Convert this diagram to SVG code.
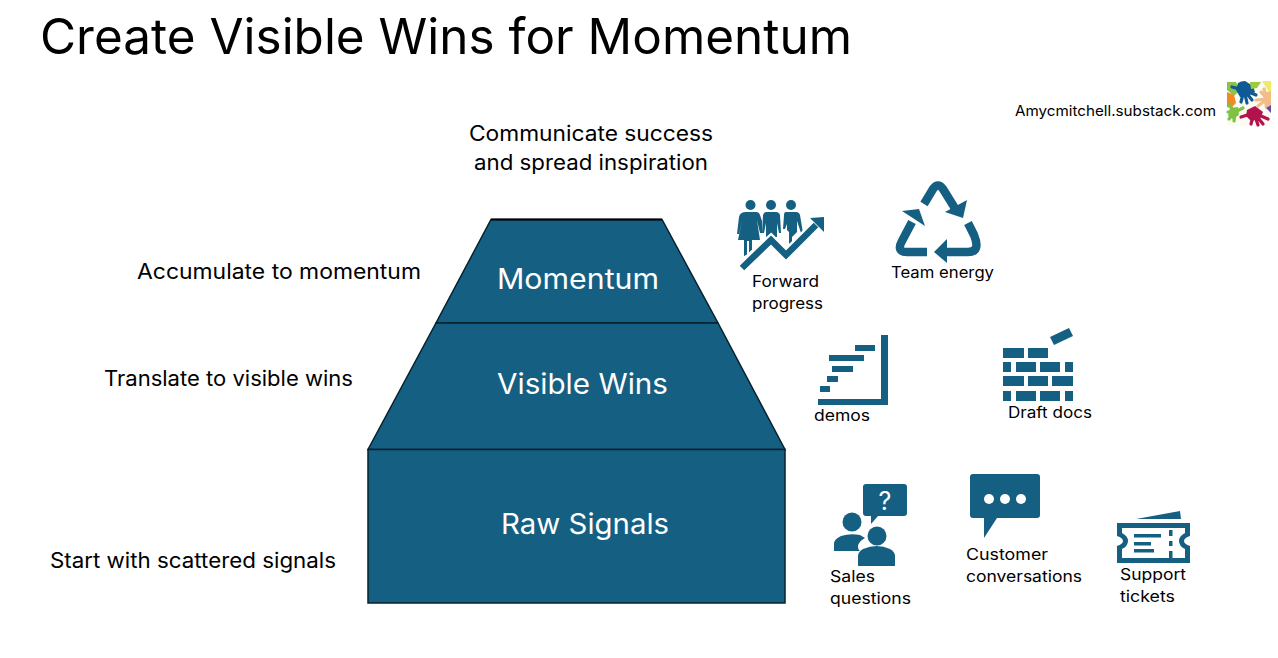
<svg xmlns="http://www.w3.org/2000/svg" width="1278" height="658" viewBox="0 0 1278 658">
<style>
text{font-family:Inter,"Liberation Sans",sans-serif;fill:#000;font-weight:400}
.t{font-size:21px}
.l{font-size:15.500px}
.p{font-size:28px;fill:#fff}
.b{fill:#156082;stroke:#06222e;stroke-width:1.500}
.i{fill:#156082}
.s{fill:none;stroke:#156082;stroke-width:8.500;stroke-linejoin:round}
.h{fill:none;stroke-width:3.200;stroke-linecap:round}
</style>
<rect width="1278" height="658" fill="#fff"/>
<text x="40" y="54" font-size="49" textLength="812" lengthAdjust="spacingAndGlyphs">Create Visible Wins for Momentum</text>
<g id="logo">
<text x="1015" y="116" font-size="14.500" textLength="201" lengthAdjust="spacingAndGlyphs">Amycmitchell.substack.com</text>
<rect x="1227" y="81" width="44" height="45" fill="#fbfbf2"/>
<path d="M1227 82h9l4 8-6 6-7-6z" fill="#8bc34a"/>
<path d="M1227 92l7 3 2 8-5 5-4-1z" fill="#f08a24"/>
<g class="h" stroke="#0f5a94"><path d="M1244 90L1232 87M1244 90L1241 102M1244 90L1247 103M1244 90L1252 100M1244 90L1256 95"/></g>
<path d="M1238 83q3-2 7-2l8 5 2 6-9 5h-6l-4-7z" fill="#0f5a94"/>
<path d="M1250 82h11l-4 6-6 1z" fill="#9ccb3b"/>
<path d="M1262 81h9v14z" fill="#f0e96a"/>
<g class="h" stroke="#f3bd8a"><path d="M1267 99L1256 100M1267 99L1258 106M1267 99L1261 92M1267 99L1264 89"/></g>
<path d="M1263 93l8-2v14l-6 4z" fill="#f3bd8a"/>
<g class="h" stroke="#7fc241"><path d="M1235 112L1229 105M1235 112L1228 112M1235 112L1229 119M1235 112L1234 121M1235 112L1243 108"/></g>
<path d="M1230 108l8-1 1 8-6 4-5-3z" fill="#7fc241"/>
<g class="h" stroke="#b3124f"><path d="M1254 113L1241 117M1254 113L1251 124M1254 113L1258 125M1254 113L1263 124M1254 113L1268 119"/></g>
<path d="M1247 110l8-4 8 6-3 7-9 2-5-5z" fill="#b3124f"/>
<path d="M1266 108l5-3v8z" fill="#6a4aa0"/>
</g>
<g id="connectors"></g>
<g id="momentum"><path class="b" d="M491 219.500H662L718 323H436z"/><path d="M491 219.500H662" stroke="#000" stroke-width="2"/><text class="p" x="497" y="289" textLength="162" lengthAdjust="spacingAndGlyphs">Momentum</text></g>
<g id="visible-wins"><path class="b" d="M436 323H718L785 449.500H368z"/><text class="p" x="497" y="394" textLength="171" lengthAdjust="spacingAndGlyphs">Visible Wins</text></g>
<g id="raw-signals"><rect class="b" x="368" y="449.500" width="417" height="153.500"/><text class="p" x="501" y="534" textLength="168" lengthAdjust="spacingAndGlyphs">Raw Signals</text></g>
<g id="label-communicate"><text class="t" x="469" y="141" textLength="244" lengthAdjust="spacingAndGlyphs">Communicate success</text><text class="t" x="474" y="170" textLength="234" lengthAdjust="spacingAndGlyphs">and spread inspiration</text></g>
<g id="label-accumulate"><text class="t" x="137" y="279" textLength="284" lengthAdjust="spacingAndGlyphs">Accumulate to momentum</text></g>
<g id="label-translate"><text class="t" x="104" y="386" textLength="249" lengthAdjust="spacingAndGlyphs">Translate to visible wins</text></g>
<g id="label-start"><text class="t" x="50" y="568" textLength="286" lengthAdjust="spacingAndGlyphs">Start with scattered signals</text></g>
<g id="forward-progress">
<g class="i">
<circle cx="750.500" cy="205" r="5"/><circle cx="771" cy="205" r="5"/><circle cx="791" cy="205" r="5"/>
<path d="M745 212h11q3 0 4 3l2 6v12h-2l-3-13 3 20h-8v13h-3v-12h-2v14l-3 1v-16h-6l4-20-3 14h-2l2-17q1-5 7-5z"/>
<path d="M766 212h10q3 0 4 3l1 18h-2l-2-10v14l-11 0v-14l-2 10h-2l1-18q1-3 3-3z"/>
<path d="M786 212h10q3 0 4 3l3 18h-2l-4-12v11l-5 5v5l-3 2v-12l-2-2v-6l-2 5h-2l1-14q0-3 2-3z"/>
</g>
<path d="M741 267L771 240L786 255L817 224" fill="none" stroke="#fff" stroke-width="11"/>
<path d="M742 268L771 240L786 255L816 225" fill="none" stroke="#156082" stroke-width="6.500"/>
<path class="i" d="M810 218L824 217V232z"/>
<text class="l" x="752" y="287" textLength="67" lengthAdjust="spacingAndGlyphs">Forward</text><text class="l" x="752" y="309" textLength="71" lengthAdjust="spacingAndGlyphs">progress</text>
</g>
<g id="team-energy">
<path class="s" d="M924 204L933 189Q938 182 943 189L956 210"/>
<path class="i" d="M967 200L963 218L945 212z"/>
<path class="s" d="M927 252H907Q896 252 902 241L912 222"/>
<path class="i" d="M902 211L919 209L925 226z"/>
<path class="s" d="M968 223L974 235Q981 252 968 252H945"/>
<path class="i" d="M947 239L934 252L947 263z"/>
<text class="l" x="891" y="278" textLength="103" lengthAdjust="spacingAndGlyphs">Team energy</text>
</g>
<g id="demos">
<g class="i">
<path d="M881 335h7v70h-70v-6h63z"/>
<rect x="855" y="345" width="20" height="6"/><rect x="829" y="355" width="35" height="6"/><rect x="832" y="366" width="21" height="6"/><rect x="827" y="376" width="11" height="6"/><rect x="820" y="386" width="10" height="6"/>
</g>
<text class="l" x="814" y="421" textLength="56" lengthAdjust="spacingAndGlyphs">demos</text>
</g>
<g id="draft-docs">
<g class="i">
<path d="M1050 337l19-9 4 8-19 9z"/>
<rect x="1003" y="348" width="21" height="10"/><rect x="1028" y="348" width="20" height="10"/>
<rect x="1003" y="362" width="8" height="10"/><rect x="1016" y="362" width="20" height="10"/><rect x="1040" y="362" width="20" height="10"/><rect x="1065" y="362" width="8" height="10"/>
<rect x="1003" y="376" width="21" height="10"/><rect x="1028" y="376" width="20" height="10"/><rect x="1052" y="376" width="21" height="10"/>
<rect x="1003" y="391" width="8" height="10"/><rect x="1016" y="391" width="20" height="10"/><rect x="1040" y="391" width="20" height="10"/><rect x="1065" y="391" width="8" height="10"/>
</g>
<text class="l" x="1008" y="418" textLength="84" lengthAdjust="spacingAndGlyphs">Draft docs</text>
</g>
<g id="sales-questions">
<g class="i">
<path d="M866 484h38q3 0 3 3v26q0 3-3 3h-26l-7 8v-8h-5q-3 0-3-3v-26q0-3 3-3z"/>
<circle cx="852" cy="522" r="9.500"/>
<path d="M834 551v-7q0-5 7-8q9-3 19-1l5 3q-6 3-7 8q0 4 2 5z"/>
<circle cx="877" cy="536" r="9.500"/>
<path d="M858 566v-10q0-4 5-7q14-6 27 0q5 3 5 7v10z"/>
</g>
<text x="885" y="510" font-size="25" font-weight="500" text-anchor="middle" style="fill:#fff">?</text>
<text class="l" x="830" y="582" textLength="45" lengthAdjust="spacingAndGlyphs">Sales</text><text class="l" x="830" y="604" textLength="81" lengthAdjust="spacingAndGlyphs">questions</text>
</g>
<g id="customer-conversations">
<path class="i" d="M973 474h64q3 0 3 3v38q0 3-3 3h-40l-13 20v-20h-11q-3 0-3-3v-38q0-3 3-3z"/>
<g fill="#fff"><circle cx="989" cy="499" r="5"/><circle cx="1005" cy="499" r="5"/><circle cx="1021" cy="499" r="5"/></g>
<text class="l" x="966" y="560" textLength="82" lengthAdjust="spacingAndGlyphs">Customer</text><text class="l" x="966" y="582" textLength="116" lengthAdjust="spacingAndGlyphs">conversations</text>
</g>
<g id="support-tickets">
<path class="i" d="M1136 519l44-8 1 8z"/>
<path class="i" fill-rule="evenodd" d="M1117 523h73v13q-6 2-6 5t6 5v17h-73v-17q6-2 6-5t-6-5zM1122 528v5q6 3 6 8t-6 8v9h63v-9q-6-3-6-8t6-8v-5z"/>
<g class="i"><rect x="1134" y="534" width="27" height="3.500"/><rect x="1134" y="542" width="17" height="3.500"/><rect x="1134" y="549" width="20" height="3.500"/><rect x="1169" y="530" width="3.500" height="6"/><rect x="1169" y="541" width="3.500" height="5"/><rect x="1169" y="551" width="3.500" height="7"/></g>
<text class="l" x="1120" y="580" textLength="66" lengthAdjust="spacingAndGlyphs">Support</text><text class="l" x="1120" y="602" textLength="55" lengthAdjust="spacingAndGlyphs">tickets</text>
</g>
</svg>
